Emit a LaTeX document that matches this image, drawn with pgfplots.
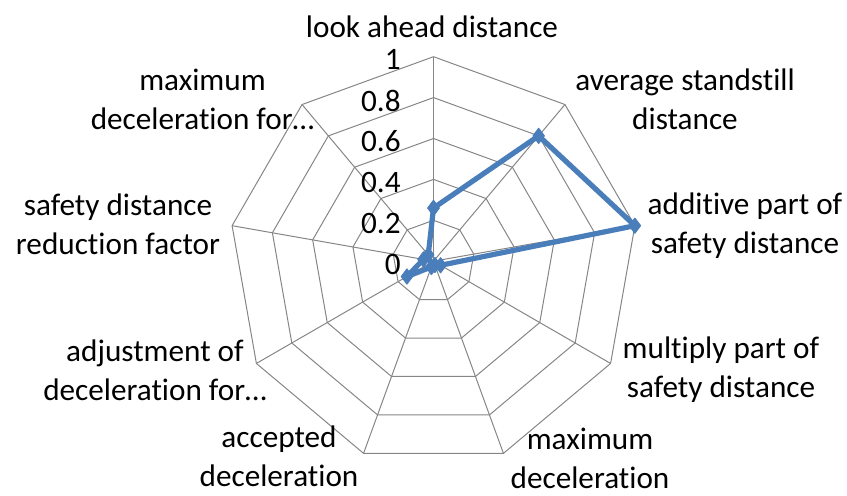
\documentclass[border=0pt]{standalone}
\usepackage{fontspec}
\setmainfont{Carlito}[Ligatures={NoCommon,NoRequired,NoContextual,NoRare}, Contextuals={NoAlternate}]
\usepackage{pgfplots}
\pgfplotsset{compat=1.18}
\usepgfplotslibrary{polar}
\definecolor{serblue}{HTML}{4A7EBB}
\definecolor{gridgray}{HTML}{868686}
\begin{document}
\begin{tikzpicture}[every node/.style={font=\fontsize{15.6}{19.5}\selectfont, text=black, inner sep=0pt}]
\begin{polaraxis}[
  width=204.5pt, height=204.5pt, scale only axis,
  ymin=0, ymax=1, xmin=0, xmax=360,
  hide axis, clip=false,
]
% web rings
\pgfplotsinvokeforeach{0.2,0.4,0.6,0.8,1}{
  \addplot[gridgray, line width=0.5pt, mark=none] coordinates {(90,#1) (50,#1) (10,#1) (330,#1) (290,#1) (250,#1) (210,#1) (170,#1) (130,#1) (90,#1)};
}
% spokes
\pgfplotsinvokeforeach{90,50,10,330,290,250,210,170,130}{
  \addplot[gridgray, line width=0.5pt, mark=none] coordinates {(#1,0) (#1,1)};
}
% data series
\addplot[serblue, line width=2.6pt, mark=diamond*, mark size=3.8pt, mark options={solid, fill=serblue, line width=0.5pt}, line join=round] coordinates {
  (90,0.26) (50,0.80) (10,1.00) (330,0.04) (290,0.02) (250,0.03) (210,0.15) (170,0.05) (130,0.04) (90,0.26)
};
\coordinate (O) at (axis cs:0,0);
\end{polaraxis}
% radial tick labels
\foreach \v/\t in {0/0,0.2/0.2,0.4/0.4,0.6/0.6,0.8/0.8,1/1}{
  \node[anchor=east] at ([shift={(-16.25pt,{\v*102.25pt-1.5pt})}]O) {\t};
}
% category labels
\node[align=center] at ([shift={(-0.75pt,117pt)}]O) {look ahead distance};
\node[align=center] at ([shift={(125.75pt,81pt)}]O) {average standstill\\distance};
\node[align=center] at ([shift={(155.75pt,18pt)}]O) {additive part of\\safety distance};
\node[align=center] at ([shift={(143.75pt,-54pt)}]O) {multiply part of\\safety distance};
\node[align=center] at ([shift={(78.25pt,-98.5pt)}]O) {maximum\\deceleration};
\node[align=center] at ([shift={(-77.25pt,-97.5pt)}]O) {accepted\\deceleration};
\node[align=center] at ([shift={(-139.25pt,-54.5pt)}]O) {adjustment of\\deceleration for…};
\node[align=center] at ([shift={(-157.75pt,18.5pt)}]O) {safety distance\\reduction factor};
\node[align=center] at ([shift={(-115.5pt,81pt)}]O) {maximum\\deceleration for…};
\pgfresetboundingbox
\path ([shift={(-216.75pt,-117.4pt)}]O) rectangle ([shift={(206.75pt,130.6pt)}]O);
\end{tikzpicture}
\end{document}
